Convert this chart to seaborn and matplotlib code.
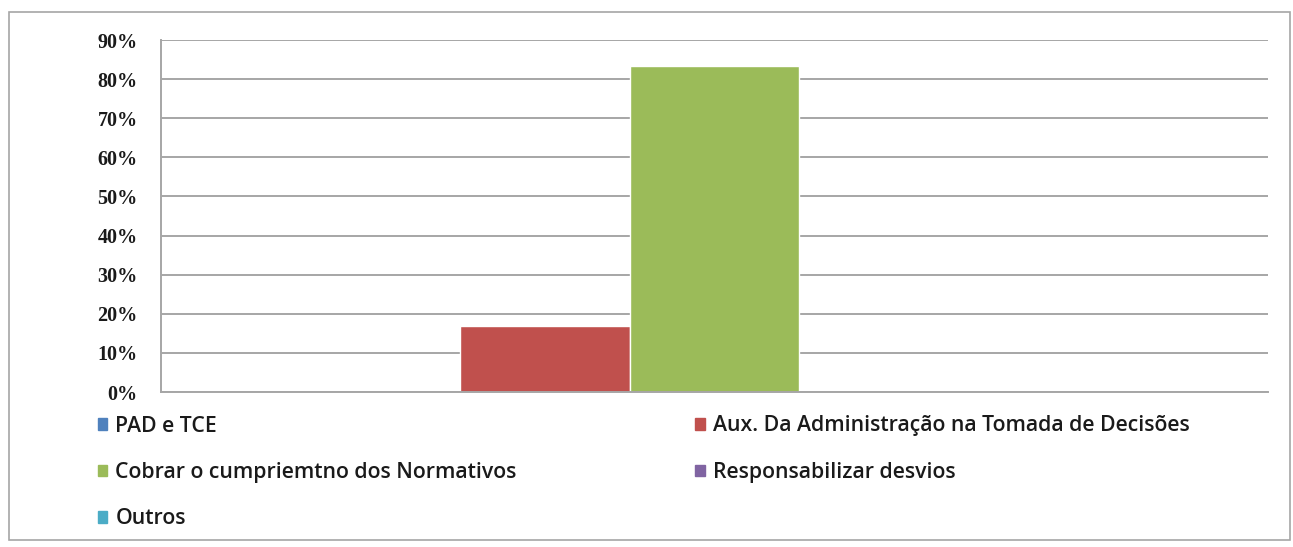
import matplotlib
matplotlib.use("Agg")
import matplotlib.pyplot as plt
import matplotlib.patches as mpatches
from matplotlib.ticker import MultipleLocator, FuncFormatter
import seaborn as sns
import pandas as pd

series = ["PAD e TCE",
          "Aux. Da Administração na Tomada de Decisões",
          "Cobrar o cumpriemtno dos Normativos",
          "Responsabilizar desvios",
          "Outros"]
values = [0.0, 0.17, 0.833, 0.0, 0.0]
colors = ["#4F81BD", "#C0504D", "#9BBB59", "#8064A2", "#4BACC6"]
category = [""] * len(series)

df = pd.DataFrame({"cat": category, "series": series, "val": values})

sns.set_style("white")
plt.rcParams["font.family"] = ["Open Sans", "DejaVu Sans"]

fig = plt.figure(figsize=(12.93, 5.47), dpi=100)
ax = fig.add_axes([161/1293, 1-392/547, (1268-161)/1293, (392-40)/547])

sns.barplot(data=df, x="cat", y="val", hue="series", hue_order=series,
            palette=colors, width=0.765, dodge=True, saturation=1,
            legend=False, ax=ax, errorbar=None)

ax.set_xlim(-0.5, 0.5)
ax.set_ylim(0, 0.9)
ax.yaxis.set_major_locator(MultipleLocator(0.1))
ax.yaxis.set_major_formatter(FuncFormatter(lambda v, p: f"{round(v*100):d}%"))
ax.grid(axis="y", color="#A6A6A6", linewidth=1.4)
ax.set_axisbelow(True)
ax.set_xlabel("")
ax.set_ylabel("")
ax.set_xticks([])
for s in ["top", "right"]:
    ax.spines[s].set_visible(False)
for s in ["left", "bottom"]:
    ax.spines[s].set_color("#A6A6A6")
    ax.spines[s].set_linewidth(1.4)
ax.tick_params(axis="y", length=5.8, width=1.4, color="#A6A6A6", pad=11,
               labelcolor="#1a1a1a")
for lab in ax.get_yticklabels():
    lab.set_fontfamily(["Liberation Serif", "DejaVu Serif"])
    lab.set_fontweight("bold")
    lab.set_fontsize(14.5)

handles = [mpatches.Patch(color=c, label=s) for s, c in zip(series, colors)]
order = [0, 2, 4, 1, 3]
leg = fig.legend([handles[i] for i in order], [series[i] for i in order],
                 ncol=2, loc="upper left", bbox_to_anchor=(89/1293, 1-407/547),
                 frameon=False, prop={"size": 15.3, "weight": "semibold"},
                 handlelength=0.44, handleheight=0.44, handletextpad=0.4,
                 labelspacing=1.2, columnspacing=8.4, borderaxespad=0)
for t in leg.get_texts():
    t.set_color("#1a1a1a")

border = mpatches.Rectangle((9/1293, 1-540/547), (1290-9)/1293, (540-12)/547,
                            transform=fig.transFigure, fill=False,
                            edgecolor="#A6A6A6", linewidth=1.2)
fig.patches.append(border)

fig.savefig("out.png", dpi=100)
